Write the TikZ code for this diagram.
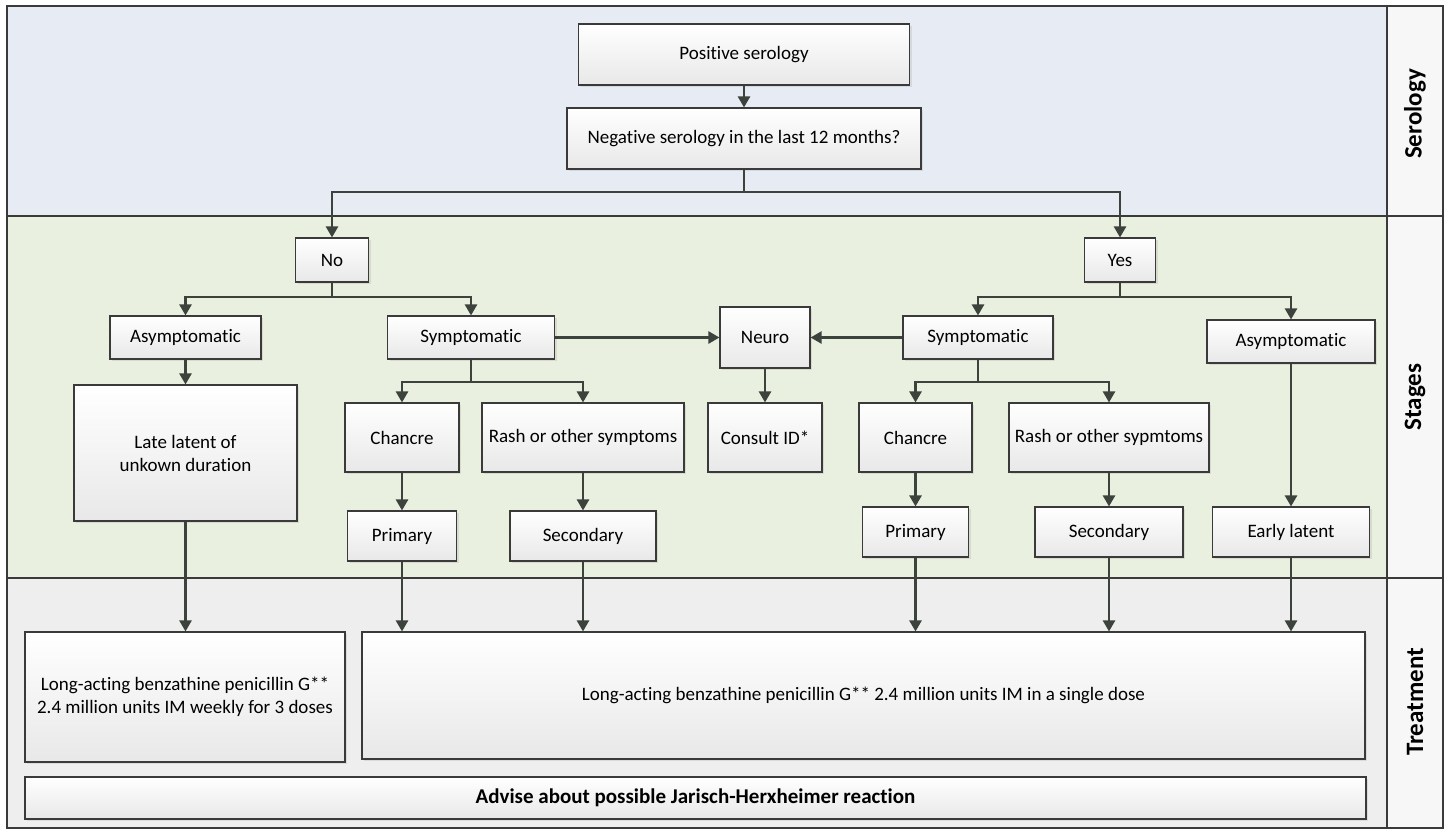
\documentclass[tikz,border=0pt]{standalone}
\usepackage{fontspec}
\setmainfont{Carlito}[Ligatures={NoCommon}]
\usetikzlibrary{arrows.meta,shadows}
\definecolor{lineC}{HTML}{3C423C}
\definecolor{frameC}{HTML}{3A3A3A}
\definecolor{seroC}{HTML}{E7ECF4}
\definecolor{stageC}{HTML}{EAF0DF}
\definecolor{treatC}{HTML}{EEEEEE}
\definecolor{labC}{HTML}{F7F7F7}
\tikzset{
  box/.style={draw=frameC, line width=1.1pt, top color=white, bottom color=black!9,
    inner sep=0pt, align=center, font=\fontsize{19}{23}\selectfont,
    drop shadow={opacity=0.18, shadow xshift=2pt, shadow yshift=-2pt}},
  arr/.style={draw=lineC, line width=2.4pt, -{Triangle[length=11pt,width=12pt]}},
  ln/.style={draw=lineC, line width=2.4pt},
  lane/.style={draw=frameC, line width=1.2pt},
  lanelab/.style={rotate=90, font=\bfseries\fontsize{25}{28}\selectfont}
}
\begin{document}
\begin{tikzpicture}[x=1pt,y=-1pt]
\useasboundingbox (0,0) rectangle (1448,831);
\fill[white] (0,0) rectangle (1448,831);
% lanes
\filldraw[lane, fill=seroC] (7,6) rectangle (1387,216);
\filldraw[lane, fill=stageC] (7,216) rectangle (1387,578);
\filldraw[lane, fill=treatC] (7,578) rectangle (1387,828);
\filldraw[lane, fill=labC] (1387,6) rectangle (1443,216);
\filldraw[lane, fill=labC] (1387,216) rectangle (1443,578);
\filldraw[lane, fill=labC] (1387,578) rectangle (1443,828);
\node[lanelab] (labS) at (1415,114) {Serology};
\node[lanelab] (labT) at (1415,397) {Stages};
\node[lanelab] (labR) at (1415,702) {Treatment};

% nodes
\node[box, minimum width=331pt, minimum height=61pt] (pos) at (744,54.5) {Positive serology};
\node[box, minimum width=354pt, minimum height=61pt] (neg) at (744,138.5) {Negative serology in the last 12 months?};
\node[box, minimum width=73pt, minimum height=44pt] (no) at (332,260) {No};
\node[box, minimum width=71pt, minimum height=44pt] (yes) at (1120,260) {Yes};

\node[box, minimum width=151pt, minimum height=43pt] (asymL) at (185.5,337.5) {Asymptomatic};
\node[box, minimum width=223pt, minimum height=136pt] (late) at (185.5,453) {Late latent of\\unkown duration};
\node[box, minimum width=167pt, minimum height=43pt] (symL) at (471,337.5) {Symptomatic};
\node[box, minimum width=114pt, minimum height=69pt] (chL) at (402,437.5) {Chancre};
\node[box, minimum width=202pt, minimum height=69pt] (rashL) at (583,437.5) {Rash or other symptoms};
\node[box, minimum width=109pt, minimum height=50pt] (priL) at (402,536) {Primary};
\node[box, minimum width=146pt, minimum height=50pt] (secL) at (583,536) {Secondary};

\node[box, minimum width=90pt, minimum height=61pt] (neuro) at (765,337.5) {Neuro};
\node[box, minimum width=114pt, minimum height=69pt] (consult) at (765,437.5) {Consult ID*};

\node[box, minimum width=150pt, minimum height=43pt] (symR) at (978,337.5) {Symptomatic};
\node[box, minimum width=113pt, minimum height=69pt] (chR) at (915.5,437.5) {Chancre};
\node[box, minimum width=200pt, minimum height=69pt] (rashR) at (1109,437.5) {Rash or other sypmtoms};
\node[box, minimum width=106pt, minimum height=50pt] (priR) at (915.5,532) {Primary};
\node[box, minimum width=148pt, minimum height=50pt] (secR) at (1109,532) {Secondary};
\node[box, minimum width=168pt, minimum height=43pt] (asymR) at (1291,341.5) {Asymptomatic};
\node[box, minimum width=157pt, minimum height=50pt] (early) at (1291,532) {Early latent};

\node[box, minimum width=320pt, minimum height=130pt] (treatL) at (185,697) {Long-acting benzathine penicillin G**\\2.4 million units IM weekly for 3 doses};
\node[box, minimum width=1003pt, minimum height=127pt] (treatR) at (863.5,695.5) {Long-acting benzathine penicillin G** 2.4 million units IM in a single dose};
\node[box, minimum width=1341pt, minimum height=42pt, font=\bfseries\fontsize{21}{25}\selectfont] (advise) at (695.5,798) {Advise about possible Jarisch-Herxheimer reaction};

% junctions
\coordinate (j1) at (744,192);
\coordinate (j2) at (332,297);
\coordinate (j3) at (471,382);
\coordinate (j4) at (1120,297);
\coordinate (j5) at (978,382);

% connectors
\draw[arr] (pos) -- (neg);
\draw[ln] (neg) -- (j1);
\draw[arr] (j1) -| (no);
\draw[arr] (j1) -| (yes);
\draw[ln] (no) -- (j2);
\draw[arr] (j2) -| (asymL);
\draw[arr] (j2) -| (symL);
\draw[arr] (asymL) -- (late);
\draw[ln] (symL) -- (j3);
\draw[arr] (j3) -| (chL);
\draw[arr] (j3) -| (rashL);
\draw[arr] (chL) -- (priL);
\draw[arr] (rashL) -- (secL);
\draw[arr] (symL) -- (neuro);
\draw[arr] (symR) -- (neuro);
\draw[arr] (neuro) -- (consult);
\draw[ln] (yes) -- (j4);
\draw[arr] (j4) -| (symR);
\draw[arr] (j4) -| (asymR);
\draw[ln] (symR) -- (j5);
\draw[arr] (j5) -| (chR);
\draw[arr] (j5) -| (rashR);
\draw[arr] (chR) -- (priR);
\draw[arr] (rashR) -- (secR);
\draw[arr] (asymR) -- (early);

\draw[arr] (late) -- (late |- treatL.north);
\draw[arr] (priL) -- (priL |- treatR.north);
\draw[arr] (secL) -- (secL |- treatR.north);
\draw[arr] (priR) -- (priR |- treatR.north);
\draw[arr] (secR) -- (secR |- treatR.north);
\draw[arr] (early) -- (early |- treatR.north);
\end{tikzpicture}
\end{document}
